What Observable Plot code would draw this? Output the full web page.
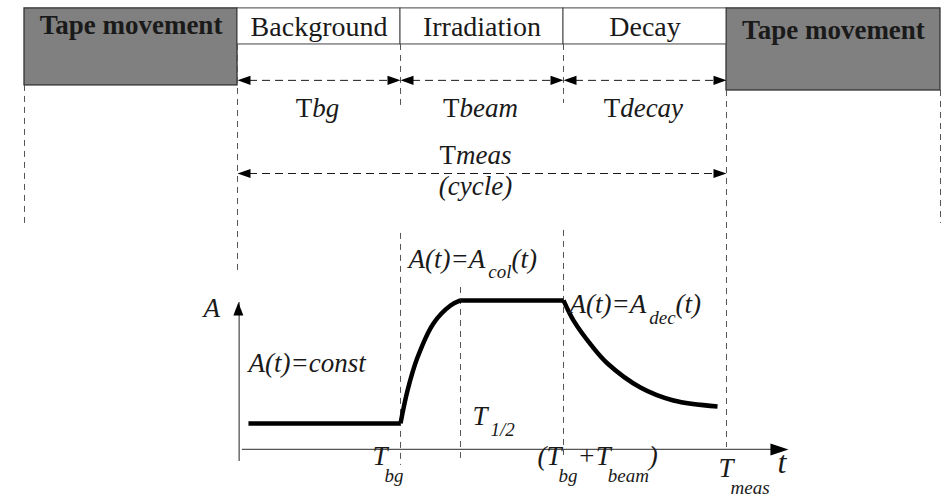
<!DOCTYPE html>
<html>
<head>
<meta charset="utf-8">
<script src="https://cdn.jsdelivr.net/npm/d3@7"></script>
<script src="https://cdn.jsdelivr.net/npm/@observablehq/plot@0.6"></script>
<style>
  body { margin: 0; background: #fff; }
  #chart svg { display: block; }
</style>
</head>
<body>
<div id="chart"></div>
<script>
// ---- Measuring cycle (time in units of one phase length) ----
const tapeBefore = -1.307;              // tape moves in the new spot
const tapeAfter = 4.313;                // tape moves the sample away
const phaseNames = ["Background", "Irradiation", "Decay"];
const phaseStart = [0, 1, 2];
const phaseEnd = [1, 2, 3];
const phaseDurations = ["T*bg*", "T*beam*", "T*decay*"];
const cycleEnd = 3;                     // Tmeas
const halfLife = 1.368;                 // T1/2 marker
const timeAxisEnd = 3.38;

// ---- Activity A(t), relative to the saturation level ----
const bgTimes = [0.067, 1];
const bgValues = [0.175, 0.175];
const riseTimes = [1, 1.043, 1.104, 1.202, 1.307, 1.368];
const riseValues = [0.175, 0.396, 0.617, 0.846, 0.966, 1];
const plateauTimes = [1.368, 2];
const plateauValues = [1, 1];
const decayTimes = [2, 2.061, 2.17, 2.27, 2.472, 2.675, 2.945];
const decayValues = [1, 0.866, 0.7, 0.577, 0.416, 0.329, 0.289];

// ---- Formula labels (*…* italic, _{…} subscript, _[…] low subscript) ----
const formulaTexts = ["*A*", "*A(t)=const*", "*A(t)=A_{col}(t)*", "*A(t)=A_{dec}(t)*",
                      "*T_{1/2}*", "*T_[bg]*", "*(T_[bg]+T_[beam])*", "*T_[meas]*"];
const formulaTimes = [-0.209, 0.067, 1.049, 2.037, 1.442, 0.828, 1.84, 2.951];
const formulaLevels = [0.886, 0.523, 1.221, 0.913, 0.161, -0.107, -0.107, -0.185];

// Vertical levels of the timeline band, in the same units as A
const L = {
  top: 2.96, headBottom: 2.718, headText: 2.775, tapeText: 2.79, tapeTextRight: 2.752,
  arrows: 2.477, leftTapeBottom: 2.443, rightTapeBottom: 2.409,
  durText: 2.228, measText: 1.919, measArrow: 1.852, cycleText: 1.705,
  sideGuideEnd: 1.517, yAxisTop: 0.987
};

const seg = (name, ts, vs) => ts.map((t, i) => ({phase: name, t, a: vs[i]}));
const flatParts = [...seg("bg", bgTimes, bgValues), ...seg("plateau", plateauTimes, plateauValues)];
const curvedParts = [...seg("rise", riseTimes, riseValues), ...seg("decay", decayTimes, decayValues)];

const phases = phaseNames.map((name, i) => ({name, start: phaseStart[i], end: phaseEnd[i], dur: phaseDurations[i]}));
const tapes = [
  {x1: tapeBefore, x2: 0, y2: L.leftTapeBottom, ty: L.tapeText},
  {x1: cycleEnd, x2: tapeAfter, y2: L.rightTapeBottom, ty: L.tapeTextRight}
];
const guides = [
  {t: tapeBefore, y1: L.leftTapeBottom, y2: L.sideGuideEnd},
  {t: 0, y1: L.headBottom, y2: 1.201},
  {t: 1, y1: L.headBottom, y2: 2.309},
  {t: 1, y1: 1.45, y2: -0.107},
  {t: 2, y1: L.headBottom, y2: 2.322},
  {t: 2, y1: 1.47, y2: -0.04},
  {t: cycleEnd, y1: L.rightTapeBottom, y2: 0.013},
  {t: tapeAfter, y1: L.rightTapeBottom, y2: L.sideGuideEnd},
  {t: halfLife, y1: 1.087, y2: -0.06}
];
const formulas = formulaTexts.map((text, i) => ({text, t: formulaTimes[i], a: formulaLevels[i]}));

// Filled arrowheads with the tip at the anchor point
const head = (len, half, dir) => ({
  draw(c) {
    const p = {
      right: [[0, 0], [-len, -half], [-len, half]],
      left: [[0, 0], [len, -half], [len, half]],
      up: [[0, 0], [-half, len], [half, len]]
    }[dir];
    c.moveTo(...p[0]); c.lineTo(...p[1]); c.lineTo(...p[2]); c.closePath();
  }
});
const headL = head(13, 4.6, "left"), headR = head(13, 4.6, "right");

const ink = "#1a1a1a", guide = "#555";
const dash = "6,5", arrowDash = "8,5";

const plot = Plot.plot({
  width: 944,
  height: 498,
  marginLeft: 24, marginRight: 4, marginTop: 0, marginBottom: 0,
  x: {domain: [tapeBefore, tapeAfter], axis: null},
  y: {domain: [-0.329, 3.013], axis: null},
  style: {fontFamily: "'Liberation Serif', 'Times New Roman', serif", background: "#fff", overflow: "visible"},
  marks: [
    // timeline band
    Plot.rect(tapes, {x1: "x1", x2: "x2", y1: L.top, y2: "y2", fill: "#808080", stroke: "#333", strokeWidth: 1.3}),
    Plot.rect(phases, {x1: "start", x2: "end", y1: L.headBottom, y2: L.top, fill: "#fff", stroke: "#444", strokeWidth: 1}),
    Plot.text(tapes, {x: d => (d.x1 + d.x2) / 2, y: "ty", text: () => "Tape movement", fontSize: 27, fontWeight: "bold", lineAnchor: "bottom", fill: ink}),
    Plot.text(phases, {x: d => (d.start + d.end) / 2, y: L.headText, text: "name", fontSize: 28, lineAnchor: "bottom", fill: ink}),

    // dashed guides
    Plot.ruleX(guides, {x: "t", y1: "y1", y2: "y2", stroke: guide, strokeWidth: 1, strokeDasharray: dash}),

    // phase durations
    Plot.ruleY(phases, {y: L.arrows, x1: "start", x2: "end", insetLeft: 12, insetRight: 12, stroke: ink, strokeWidth: 1, strokeDasharray: arrowDash}),
    Plot.dot(phases, {x: "start", y: L.arrows, symbol: headL, fill: "#000", stroke: "none"}),
    Plot.dot(phases, {x: "end", y: L.arrows, symbol: headR, fill: "#000", stroke: "none"}),
    Plot.text(phases, {x: d => (d.start + d.end) / 2 - 0.01, y: L.durText, text: "dur", fontSize: 27, lineAnchor: "bottom", fill: ink}),

    // whole cycle
    Plot.ruleY([0], {y: L.measArrow, x1: 0, x2: cycleEnd, insetLeft: 12, insetRight: 12, stroke: ink, strokeWidth: 1, strokeDasharray: arrowDash}),
    Plot.dot([0], {x: 0, y: L.measArrow, symbol: headL, fill: "#000", stroke: "none"}),
    Plot.dot([0], {x: cycleEnd, y: L.measArrow, symbol: headR, fill: "#000", stroke: "none"}),
    Plot.text(["T*meas*"], {x: 1.46, y: L.measText, text: d => d, fontSize: 27, lineAnchor: "bottom", fill: ink}),
    Plot.text(["*(cycle)*"], {x: 1.46, y: L.cycleText, text: d => d, fontSize: 27, lineAnchor: "bottom", fill: ink}),

    // A–t axes
    Plot.ruleY([0], {x1: 0.03, x2: timeAxisEnd, insetRight: 17, stroke: guide, strokeWidth: 1.3}),
    Plot.dot([0], {x: timeAxisEnd, y: 0, symbol: head(18, 6, "right"), fill: "#000", stroke: "none"}),
    Plot.ruleX([0.01], {y1: 0, y2: L.yAxisTop, insetTop: 12, stroke: guide, strokeWidth: 1.3}),
    Plot.dot([0.005], {x: d => d, y: L.yAxisTop, symbol: head(13, 5, "up"), fill: "#000", stroke: "none"}),

    // activity curve
    Plot.line(flatParts, {x: "t", y: "a", z: "phase", stroke: "#000", strokeWidth: 4.5, strokeLinecap: "butt"}),
    Plot.line(curvedParts, {x: "t", y: "a", z: "phase", curve: "catmull-rom", stroke: "#000", strokeWidth: 4.5, strokeLinecap: "butt"}),

    // formulas and axis names
    Plot.text(formulas, {x: "t", y: "a", text: "text", fontSize: 27, textAnchor: "start", lineAnchor: "bottom", fill: ink}),
    Plot.text(["*t*"], {x: 3.313, y: -0.161, text: d => d, fontSize: 32, textAnchor: "start", lineAnchor: "bottom", fill: ink})
  ]
});

// Turn the small markup of the labels into italic and subscript tspans
function parseMarkup(src) {
  const out = [];
  let italic = false, sub = 0, buf = "";
  const flush = () => { if (buf) { out.push({s: buf, italic, sub}); buf = ""; } };
  for (let i = 0; i < src.length; i++) {
    const ch = src[i];
    if (ch === "*") { flush(); italic = !italic; }
    else if (ch === "_" && (src[i + 1] === "{" || src[i + 1] === "[")) { flush(); sub = src[i + 1] === "{" ? 1 : 2; i++; }
    else if ((ch === "}" && sub === 1) || (ch === "]" && sub === 2)) { flush(); sub = 0; }
    else buf += ch;
  }
  flush();
  return out;
}

d3.select(plot).selectAll("text").each(function () {
  const el = d3.select(this);
  const src = el.text();
  if (!/[*_]/.test(src)) return;
  const g = this.closest("g[font-size]");
  const size = (g && +g.getAttribute("font-size")) || 27;
  const parts = parseMarkup(src);
  el.text(null);
  let offset = 0;
  for (const p of parts) {
    const target = p.sub === 1 ? 0.4 * size : p.sub === 2 ? 0.62 * size : 0;
    const ts = el.append("tspan").text(p.s).attr("font-style", p.italic ? "italic" : "normal");
    if (target !== offset) ts.attr("dy", target - offset);
    if (p.sub) ts.attr("font-size", Math.round(size * 0.7)).attr("dx", p.sub === 1 ? 3 : -3);
    offset = target;
  }
});

document.getElementById("chart").append(plot);
</script>
</body>
</html>
